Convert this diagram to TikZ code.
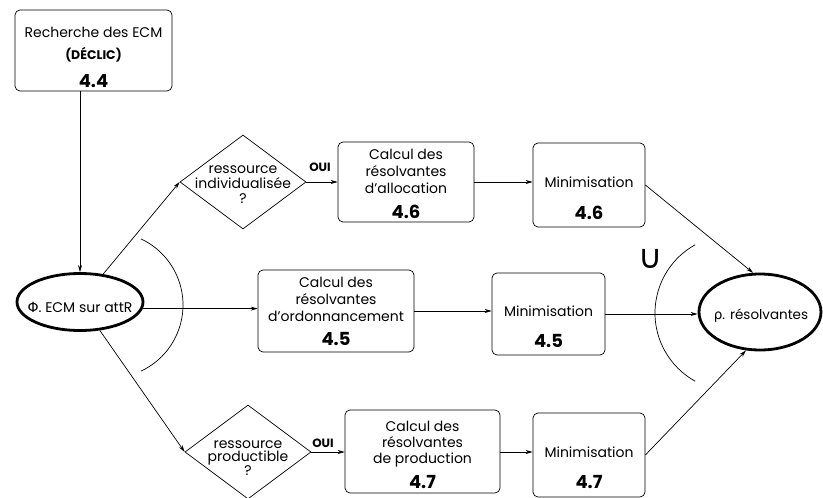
\documentclass[tikz,border=0pt]{standalone}
\usepackage{fontspec}
\setmainfont{Poppins}
\newfontfamily\symfont{DejaVu Sans}
\usetikzlibrary{shapes.geometric,arrows.meta,calc}
\begin{document}
\begin{tikzpicture}[x=1pt,y=1pt,line width=0.7pt,
  arr/.style={-{Stealth[length=7pt,width=4pt]}},
  txt/.style={font=\fontsize{14}{17}\selectfont},
  box/.style={draw, rounded corners=5pt, align=center, inner sep=0pt, txt},
  dia/.style={draw, diamond, inner sep=0pt, minimum width=126pt, minimum height=94pt},
  ell/.style={draw, ellipse, line width=2.8pt, inner sep=0pt},
  oui/.style={font=\fontsize{12}{12}\selectfont\bfseries}
]
\useasboundingbox (0,0) rectangle (823,-498);
\newcommand{\nb}[1]{{\fontsize{18}{18}\selectfont\bfseries #1}}

\node[box, minimum width=157pt, minimum height=81pt] (top) at (93.5,-50.5)
  {\rule{0pt}{25pt}Recherche des ECM\\[5pt]{\fontsize{12.5}{14}\selectfont\bfseries (DÉCLIC)}\\[11pt]\nb{4.4}};

\node[ell, minimum width=126pt, minimum height=57pt] (phi) at (80,-302) {};
\node[txt] (phit) at (80,-307) {{\symfont Φ}. ECM sur attR};

\node[dia] (d1) at (243,-182) {};
\node[align=center, font=\fontsize{14}{15}\selectfont] (d1t) at (243,-185) {ressource\\individualisée\\?};
\node[dia] (d2) at (248,-452) {};
\node[align=center, font=\fontsize{14}{13}\selectfont] (d2t) at (248,-458) {ressource\\productible\\?};

\node[box, minimum width=136pt, minimum height=80pt] (a46) at (406,-182)
  {\rule{0pt}{15pt}Calcul des\\résolvantes\\d'allocation\\[8pt]\nb{4.6}};
\node[box, minimum width=112pt, minimum height=84pt] (m46) at (589,-185)
  {\rule{0pt}{38pt}Minimisation\\[15pt]\nb{4.6}};

\node[box, minimum width=156pt, minimum height=82pt] (a45) at (336,-311)
  {\rule{0pt}{12pt}Calcul des\\résolvantes\\d'ordonnancement\\[7pt]\nb{4.5}};
\node[box, minimum width=113pt, minimum height=82pt] (m45) at (548.5,-314)
  {\rule{0pt}{36pt}Minimisation\\[13.5pt]\nb{4.5}};

\node[box, minimum width=155pt, minimum height=83pt] (a47) at (422.5,-451.5)
  {\rule{0pt}{18pt}Calcul des\\[-1pt]résolvantes\\[-1pt]de production\\[8pt]\nb{4.7}};
\node[box, minimum width=112pt, minimum height=84pt] (m47) at (589,-455)
  {\rule{0pt}{36pt}Minimisation\\[13.5pt]\nb{4.7}};

\node[ell, minimum width=122pt, minimum height=76pt] (rho) at (760,-312) {};
\node[font=\fontsize{13.5}{16}\selectfont] (rhot) at (761,-316) {{\symfont ρ}. résolvantes};

\node[oui] (o1) at (320,-167) {OUI};
\node[oui] (o2) at (323,-443) {OUI};

\node[font=\symfont\fontsize{33}{33}\selectfont, inner sep=0pt] (cup) at (651,-259) {∪};

% connectors
\draw[arr] (phi.north |- top.south) -- (phi.north);
\draw[arr] (phi) -- (d1.west);
\draw[arr] (phi) -- (d2.west);
\draw[arr] (phi.-6) -- (a45.west |- phi.-6);
\draw[arr] (d1.east) -- (a46.west);
\draw[arr] (a46.east) -- (m46.west |- a46.east);
\draw[arr] (d2.east) -- (a47.west |- d2.east);
\draw[arr] (a47.east |- d2.east) -- (m47.west |- d2.east);
\draw[arr] (a45.east) -- (m45.west |- a45.east);
\draw[arr] (m46.east) -- (rho.100);
\draw[arr] (m45.east) -- (rho.west |- m45.east);
\draw[arr] (m47.east) -- (rho.250);

% arcs
\draw (110,-305) ++(-65:73) arc[start angle=-65, end angle=65, radius=73];
\draw (733,-313) ++(119:78) arc[start angle=119, end angle=241, radius=78];
\end{tikzpicture}
\end{document}
